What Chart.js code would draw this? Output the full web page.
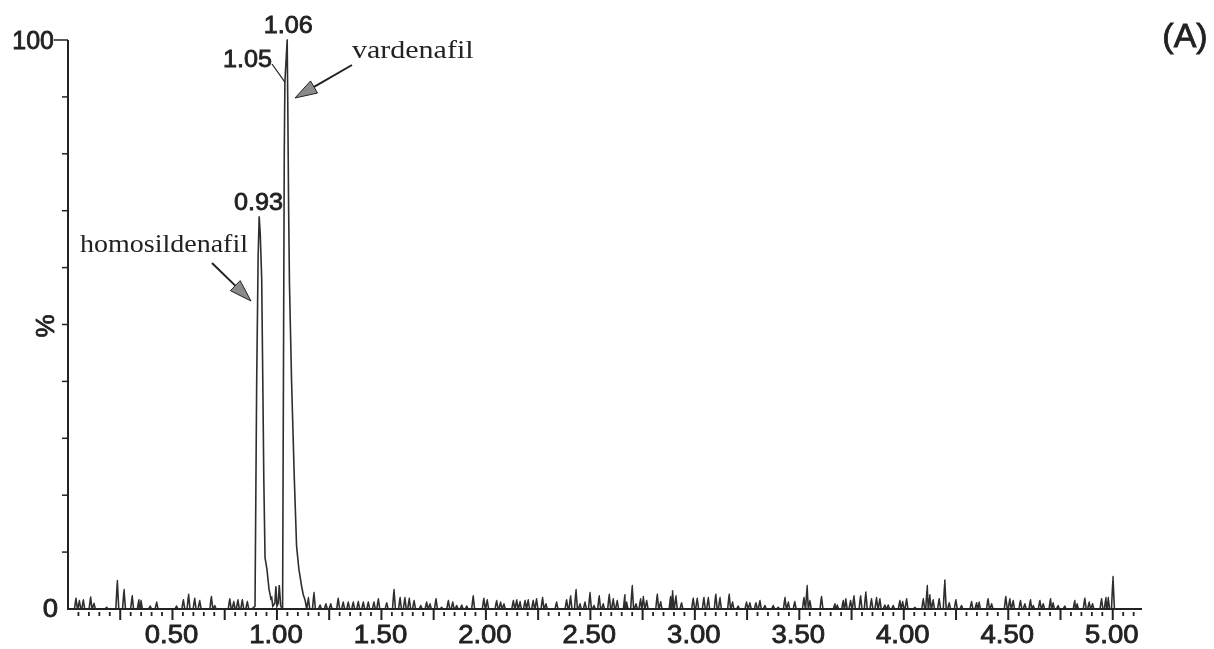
<!DOCTYPE html>
<html>
<head>
<meta charset="utf-8">
<title>Chromatogram (A)</title>
<script src="https://cdn.jsdelivr.net/npm/chart.js@4.4.1/dist/chart.umd.min.js"></script>
<style>
    html, body { margin: 0; padding: 0; background: #fff; }
    #wrap { width: 1214px; height: 649px; position: relative; }
</style>
</head>
<body>
<div id="wrap"><canvas id="chrom-chart"></canvas></div>
<script>
"use strict";

// ─── Data ────────────────────────────────────────────────────────────────────

// Retention time axis (min) and intensity (%)
const TIME_MIN = 0;
const TIME_MAX = 5.14;
const Y_MIN    = 0;
const Y_MAX    = 100;

// Labelled x ticks, y ticks
const X_TICK_LABELS = ["0.50", "1.00", "1.50", "2.00", "2.50", "3.00", "3.50", "4.00", "4.50", "5.00"];
const Y_TICK_LABELS = ["0", "100"];

// The two main peaks (homosildenafil ~0.93, vardenafil ~1.05/1.06)
const peakTimes  = [0.880, 0.895, 0.903, 0.910, 0.915, 0.920, 0.927, 0.934, 0.937, 0.943, 0.952, 0.962, 0.971,
                    0.975, 0.980, 0.990, 0.995, 1.000, 1.006, 1.011, 1.018, 1.027,
                    1.031, 1.035, 1.038, 1.043, 1.049, 1.052, 1.056, 1.060, 1.070, 1.083, 1.094, 1.105,
                    1.118, 1.126, 1.135, 1.142];
const peakValues = [0, 0.5, 40, 62, 69, 66, 58, 34, 23, 9, 7, 3.5, 1.8,
                    2, 0.5, 1, 4, 0.5, 1, 4.2, 0.5, 0,
                    40, 80, 92.6, 96, 100, 88, 70, 57, 40, 23, 11, 7,
                    4, 2.5, 1.5, 0];

// Baseline noise spikes
const noiseTimes = [
    0.038, 0.054, 0.073, 0.108, 0.124, 0.185, 0.236, 0.268, 0.307, 0.339, 0.349, 0.393, 0.424, 0.519,
    0.552, 0.577, 0.606, 0.630, 0.686, 0.702, 0.774, 0.793, 0.813, 0.834, 0.858,
    1.150, 1.177, 1.206, 1.234, 1.257, 1.293, 1.317, 1.341, 1.365, 1.389, 1.413, 1.437, 1.464, 1.485,
    1.525, 1.560, 1.589, 1.612, 1.633, 1.656, 1.688, 1.716, 1.732, 1.761, 1.788, 1.820, 1.841, 1.860,
    1.884, 1.908,
    1.939, 1.990, 2.006, 2.051, 2.070, 2.086, 2.131, 2.147, 2.163, 2.187, 2.202, 2.226, 2.242, 2.271,
    2.287, 2.338, 2.386, 2.405, 2.431, 2.450, 2.474, 2.498, 2.517, 2.542, 2.561, 2.590, 2.609, 2.628,
    2.665, 2.673, 2.700, 2.718, 2.740, 2.753, 2.769,
    2.820, 2.836, 2.884, 2.893, 2.909, 2.936, 2.992, 3.011, 3.043, 3.064, 3.100, 3.120, 3.164, 3.180,
    3.207, 3.247, 3.263, 3.292, 3.311, 3.335, 3.375, 3.399, 3.431, 3.447, 3.478, 3.522, 3.537, 3.550,
    3.606,
    3.670, 3.681, 3.710, 3.722, 3.745, 3.761, 3.793, 3.818, 3.845, 3.869, 3.885, 3.909, 3.925, 3.949,
    3.981, 3.994, 4.013, 4.053, 4.093, 4.112, 4.124, 4.140, 4.169, 4.196, 4.217, 4.249, 4.276, 4.324,
    4.348, 4.360, 4.403, 4.420, 4.488,
    4.507, 4.523, 4.558, 4.579, 4.606, 4.619, 4.651, 4.667, 4.702, 4.714, 4.738, 4.770, 4.818, 4.829,
    4.866, 4.887, 4.903, 4.946, 4.967, 4.978, 5.001
];
const noiseValues = [
    1.9, 1.5, 1.6, 2.1, 1.0, 0.3, 5.0, 3.4, 2.3, 1.6, 1.5, 0.5, 1.2, 0.5,
    1.6, 2.6, 1.9, 1.5, 2.2, 0.6, 1.8, 1.3, 1.6, 1.6, 1.3,
    2.0, 2.9, 0.7, 0.9, 0.9, 1.9, 1.2, 1.2, 1.2, 1.3, 1.2, 1.2, 1.2, 1.8,
    1.1, 3.4, 2.0, 2.0, 1.9, 1.5, 0.6, 1.2, 0.9, 1.8, 0.3, 1.5, 1.2, 0.6,
    0.7, 0.5,
    2.3, 1.9, 1.6, 1.5, 1.2, 0.9, 1.5, 1.6, 1.3, 1.5, 1.6, 1.5, 1.8, 2.0,
    0.9, 1.2, 1.6, 2.3, 3.4, 0.9, 1.2, 2.9, 0.6, 2.3, 0.9, 2.6, 1.8, 1.5,
    2.5, 1.2, 4.1, 0.9, 1.8, 2.2, 1.5,
    2.6, 1.3, 2.2, 3.2, 2.3, 1.1, 1.9, 1.9, 2.0, 2.0, 2.6, 2.0, 2.6, 1.2,
    0.5, 1.2, 1.1, 1.1, 1.5, 0.6, 0.6, 0.3, 2.0, 1.2, 1.3, 2.0, 4.1, 1.5,
    2.2,
    0.9, 0.7, 1.5, 1.8, 1.5, 2.3, 2.3, 3.0, 1.8, 2.0, 1.8, 0.7, 0.7, 0.6,
    1.5, 1.3, 1.8, 0.3, 1.8, 4.1, 2.5, 1.6, 1.8, 5.1, 1.1, 1.6, 0.6, 1.3,
    1.1, 1.2, 1.8, 0.9, 2.2,
    1.8, 1.5, 1.5, 0.9, 1.6, 0.6, 1.5, 0.9, 1.8, 1.1, 0.6, 0.5, 1.5, 0.9,
    1.9, 1.2, 0.9, 1.8, 2.0, 2.0, 5.7
];

// ─── Build trace ─────────────────────────────────────────────────────────────

const SPIKE_HALF = 0.007;   // half width of a noise spike, min

function _buildTrace() {
    var pts = [{ x: 0, y: 0 }];
    peakTimes.forEach(function(t, i) { pts.push({ x: t, y: peakValues[i] }); });
    noiseTimes.forEach(function(t, i) {
        pts.push({ x: t - SPIKE_HALF, y: 0 });
        pts.push({ x: t,              y: noiseValues[i] });
        pts.push({ x: t + SPIKE_HALF, y: 0 });
    });
    pts.push({ x: 5.02, y: 0 });
    pts.sort(function(a, b) { return a.x - b.x; });
    return pts;
}

// ─── Axes + annotations ──────────────────────────────────────────────────────

const INK   = "#222222";
const SANS  = "'Liberation Sans', Arial, sans-serif";
const SERIF = "'Liberation Serif', 'Times New Roman', serif";

function _arrow(ctx, x0, y0, x1, y1) {
    var ang = Math.atan2(y1 - y0, x1 - x0);
    var len = 22, half = 7;
    var bx = x1 - Math.cos(ang) * len, by = y1 - Math.sin(ang) * len;
    ctx.save();
    ctx.beginPath();
    ctx.moveTo(x0, y0);
    ctx.lineTo(bx, by);
    ctx.strokeStyle = INK;
    ctx.lineWidth = 2;
    ctx.stroke();
    ctx.beginPath();
    ctx.moveTo(x1, y1);
    ctx.lineTo(bx - Math.sin(ang) * half, by + Math.cos(ang) * half);
    ctx.lineTo(bx + Math.sin(ang) * half, by - Math.cos(ang) * half);
    ctx.closePath();
    ctx.fillStyle = "#8a8a8a";
    ctx.fill();
    ctx.lineWidth = 1;
    ctx.stroke();
    ctx.restore();
}

// heavy-ish text: fill plus a thin stroke, optionally widened
function _text(ctx, text, x, y, sx) {
    ctx.save();
    ctx.translate(x, y);
    ctx.scale(sx || 1, 1);
    ctx.lineWidth = 0.8;
    ctx.fillText(text, 0, 0);
    ctx.strokeText(text, 0, 0);
    ctx.restore();
}

const axesPlugin = {
    id: "chromAxes",
    afterDraw: function(chart) {
        var ctx = chart.ctx;
        var xs = chart.scales.x, ys = chart.scales.y;
        var x0 = xs.getPixelForValue(TIME_MIN), x1 = xs.getPixelForValue(TIME_MAX);
        var y0 = ys.getPixelForValue(Y_MIN),    y1 = ys.getPixelForValue(Y_MAX);

        ctx.save();
        ctx.strokeStyle = INK;
        ctx.fillStyle = INK;

        // axis lines
        ctx.lineWidth = 2;
        ctx.beginPath();
        ctx.moveTo(x0, y1); ctx.lineTo(x0, y0); ctx.lineTo(x1, y0);
        ctx.stroke();

        // y ticks every 10 %
        ctx.lineWidth = 1.5;
        for (var v = 10; v <= 100; v += 10) {
            var py = ys.getPixelForValue(v);
            ctx.beginPath();
            ctx.moveTo(x0, py); ctx.lineTo(x0 - (v === 100 ? 14 : 6), py);
            ctx.stroke();
        }

        // x ticks every 0.05, longer every 0.25
        for (var i = 1; i * 0.05 <= TIME_MAX - 0.02; i++) {
            var px = xs.getPixelForValue(i * 0.05);
            var long = (i % 5 === 0);
            ctx.lineWidth = long ? 2 : 1.8;
            ctx.beginPath();
            ctx.moveTo(px, y0 + (long ? 0 : 3)); ctx.lineTo(px, y0 + (long ? 11 : 7));
            ctx.stroke();
        }

        // x labels
        ctx.font = "25px " + SANS;
        ctx.textAlign = "center";
        ctx.textBaseline = "alphabetic";
        X_TICK_LABELS.forEach(function(lbl) {
            _text(ctx, lbl, xs.getPixelForValue(parseFloat(lbl)) - 1, 643, 1.1);
        });

        // y labels
        ctx.textAlign = "right";
        ctx.textBaseline = "middle";
        _text(ctx, Y_TICK_LABELS[1], x0 - 14, y1 + 2, 1);
        _text(ctx, Y_TICK_LABELS[0], x0 - 10, y0 + 1, 1.1);

        // % title
        ctx.save();
        ctx.translate(47, 326);
        ctx.rotate(-Math.PI / 2);
        ctx.textAlign = "center";
        ctx.font = "26px " + SANS;
        _text(ctx, "%", 0, 0, 1);
        ctx.restore();

        // peak labels
        ctx.font = "24px " + SANS;
        ctx.textBaseline = "alphabetic";
        ctx.textAlign = "center";
        _text(ctx, "1.06", xs.getPixelForValue(1.049) + 1, 33, 1.05);
        ctx.textAlign = "right";
        _text(ctx, "1.05", 272, 67, 1.05);
        _text(ctx, "0.93", 283, 210, 1.05);
        ctx.lineWidth = 1.2;
        ctx.beginPath();
        ctx.moveTo(272, 64); ctx.lineTo(xs.getPixelForValue(1.038), ys.getPixelForValue(92.6));
        ctx.stroke();

        // compound names
        ctx.font = "25px " + SERIF;
        ctx.textAlign = "left";
        ctx.save();
        ctx.translate(80, 252); ctx.scale(1.12, 1); ctx.fillText("homosildenafil", 0, 0);
        ctx.restore();
        ctx.save();
        ctx.translate(352, 58); ctx.scale(1.2, 1); ctx.fillText("vardenafil", 0, 0);
        ctx.restore();
        _arrow(ctx, 212, 263, 251, 301);
        _arrow(ctx, 352, 65, 295, 98);

        // panel tag
        ctx.font = "34px " + SANS;
        ctx.textAlign = "center";
        ctx.textBaseline = "middle";
        _text(ctx, "(A)", 1185, 38, 1);

        ctx.restore();
    }
};

// ─── Chart ───────────────────────────────────────────────────────────────────

function _initChart() {
    var ctx = document.getElementById("chrom-chart");
    return new Chart(ctx, {
        type: "line",
        data: {
            datasets: [{
                data:        _buildTrace(),
                borderColor: "#2e2e2e",
                borderWidth: 1.6,
                pointRadius: 0,
                tension:     0.0001,   // tiny tension avoids the fast-path column merge
                fill:        false,
                clip:        false
            }]
        },
        options: {
            responsive: true,
            maintainAspectRatio: false,
            animation: false,
            parsing: false,
            layout: { padding: { left: 68, right: 72, top: 40, bottom: 40 } },
            plugins: { legend: { display: false }, tooltip: { enabled: false } },
            scales: {
                x: { type: "linear", min: TIME_MIN, max: TIME_MAX, display: false },
                y: { type: "linear", min: Y_MIN,    max: Y_MAX,    display: false }
            }
        },
        plugins: [axesPlugin]
    });
}

_initChart();
</script>
</body>
</html>
